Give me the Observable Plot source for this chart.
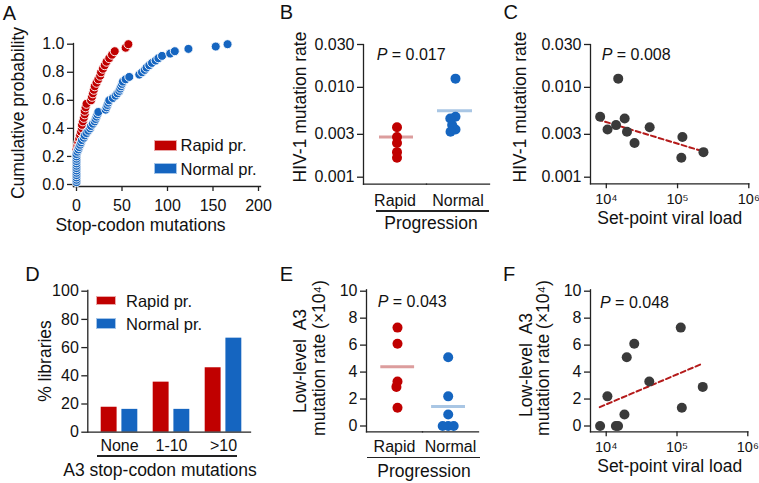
<!DOCTYPE html>
<html><head><meta charset="utf-8">
<script src="https://cdn.jsdelivr.net/npm/d3@7"></script>
<script src="https://cdn.jsdelivr.net/npm/@observablehq/plot@0.6"></script>
<style>
body{margin:0;background:#fff;}
#fig{position:relative;width:759px;height:483px;overflow:hidden;background:#fff;font-family:"Liberation Sans",Arial,Helvetica,sans-serif;color:#111;}
.t{position:absolute;white-space:pre;line-height:1;}
.sw{position:absolute;box-sizing:border-box;}
.ln{position:absolute;height:1.3px;background:#222;}
</style></head><body><div id="fig"></div>
<script>
// ---------- data ----------
// Panel A: stop-codon mutations per library (sorted), cumulative probability derived by rank
const rapidStopCodons = [0,0,0,0,0,0,0,0,0,0,1,2,3,4,5,6,6,7,8,9,9,10,11,16,17,18,19,20,22,24,26,27,29,31,33,36,39,42,54,57];
const normalStopCodons = [0,0,0,0,0,0,0,0,0,0,0,0,0,1,2,3,4,5,6,8,9,11,13,15,16,18,20,21,22,23,24,32,33,34,35,36,40,43,45,47,48,49,50,51,54,58,69,72,75,77,80,83,87,90,94,103,108,123,153,166];
const aXTicks = [0,50,100,150,200];
const aYTicks = [0,0.2,0.4,0.6,0.8,1.0];

// Panels B, C, E, F: one entry per patient
const patientGroup = ["Normal","Normal","Normal","Normal","Normal","Normal","Rapid","Rapid","Rapid","Rapid","Rapid"];
const patientViralLoad = [8200,10400,13700,14700,18100,19500,24900,40600,113000,117000,231000];
const patientHivRate = [0.0047,0.0034,0.0038,0.0125,0.0045,0.0032,0.0024,0.0036,0.00165,0.0028,0.0019];
const patientA3Rate = [0,2.2,0,0,0.85,5.1,6.1,3.3,7.3,1.35,2.9];
const groupNames = ["Rapid","Normal"];
const hivRateMean = [0.0028,0.0055];
const a3RateMean = [4.4,1.45];
const rateTicks = [0.001,0.003,0.01,0.03];
const viralLoadTicks = [1e4,1e5,1e6];
const a3Ticks = [0,2,4,6,8,10];
const cFitViralLoad = [7500,232000];
const cFitRate = [0.0044,0.00193];
const fFitViralLoad = [8100,227000];
const fFitA3 = [1.4,4.62];

// Panel D
const dCategories = ["None","1-10",">10"];
const dRapidPct = [17.7,35.5,45.7];
const dNormalPct = [16.2,16.2,66.7];
const pctTicks = [0,20,40,60,80,100];

// ---------- styling ----------
const RED = "#c00000", BLUE = "#1565c0", GRAY = "#3a3a3a", FIT = "#b41a1a";
const PINK = "#dc9d9d", LBLUE = "#a9c6e4";
const AX = {stroke:"#222", strokeWidth:1.3};
const baseStyle = {fontFamily:'"Liberation Sans", Arial, Helvetica, sans-serif', fontSize:"16px", color:"#111", background:"transparent", overflow:"visible"};
const fig = document.getElementById("fig");
function place(svg, left, top){ svg.style.position="absolute"; svg.style.left=left+"px"; svg.style.top=top+"px"; svg.style.maxWidth="none"; fig.appendChild(svg); }
function txt(html, x, y, o={}){
  const d=document.createElement("div"); d.className="t"; d.innerHTML=html;
  d.style.left=x+"px"; d.style.top=y+"px"; d.style.fontSize=(o.size||17.5)+"px";
  const tx = o.anchor==="start" ? "0" : "-50%";
  d.style.transform=`translate(${tx},-50%)`+(o.rotate?` rotate(${o.rotate}deg)`:"");
  fig.appendChild(d);
}
function swatch(x,y,w,h,fill,border){ const d=document.createElement("div"); d.className="sw"; Object.assign(d.style,{left:x+"px",top:y+"px",width:w+"px",height:h+"px",background:fill,border:`1px solid ${border}`}); fig.appendChild(d); }
function hline(x1,x2,y){ const d=document.createElement("div"); d.className="ln"; Object.assign(d.style,{left:x1+"px",top:(y-0.65)+"px",width:(x2-x1)+"px"}); fig.appendChild(d); }
const sup = n => String(n).split("").map(c=>"⁰¹²³⁴⁵⁶⁷⁸⁹"[+c]).join("");
const powFmt = d => "10" + sup(Math.round(Math.log10(d)));

// ---------- derived tables ----------
const ecdf = arr => arr.map((x,i)=>({x, p:(i+1)/arr.length}));
const rapidEcdf = ecdf(rapidStopCodons), normalEcdf = ecdf(normalStopCodons);
const patients = patientGroup.map((g,i)=>({group:g, vl:patientViralLoad[i], rate:patientHivRate[i], a3:patientA3Rate[i]}));
const rapidP = patients.filter(d=>d.group==="Rapid"), normalP = patients.filter(d=>d.group==="Normal");
const means = groupNames.map((g,i)=>({group:g, rate:hivRateMean[i], a3:a3RateMean[i]}));
const cFit = cFitViralLoad.map((v,i)=>({vl:v, rate:cFitRate[i]}));
const fFit = fFitViralLoad.map((v,i)=>({vl:v, a3:fFitA3[i]}));
const dRows = dCategories.flatMap((c,i)=>[{cat:c, series:"Rapid", pct:dRapidPct[i]},{cat:c, series:"Normal", pct:dNormalPct[i]}]);

// ---------- Panel A ----------
place(Plot.plot({
  width:268, height:232, marginLeft:73, marginRight:8, marginTop:43, marginBottom:46, style:baseStyle,
  x:{domain:[0,200], insetLeft:3, insetRight:2, axis:null},
  y:{domain:[0,1], insetTop:0.7, insetBottom:2, axis:null},
  marks:[
    Plot.frame({anchor:"left", ...AX}), Plot.frame({anchor:"bottom", ...AX}),
    Plot.axisX(aXTicks, {tickSize:5, tickPadding:8, label:null, ...AX}),
    Plot.axisY(aYTicks, {tickSize:6, tickPadding:3, tickFormat:d3.format(".1f"), label:null, ...AX}),
    Plot.dot(rapidEcdf, {x:"x", y:"p", r:4.5, fill:RED, stroke:"#fff", strokeWidth:0.9}),
    Plot.dot(normalEcdf, {x:"x", y:"p", r:4.5, fill:BLUE, stroke:"#fff", strokeWidth:0.9})
  ]
}), 0, 0);

// ---------- Panel B ----------
place(Plot.plot({
  width:250, height:232, marginLeft:113, marginRight:11, marginTop:44, marginBottom:48.3, style:baseStyle,
  fx:{domain:groupNames, padding:0, axis:null},
  y:{type:"log", domain:[0.001,0.03], insetBottom:7, axis:null},
  marks:[
    Plot.frame({anchor:"bottom", ...AX}),
    Plot.frame({anchor:"left", facetAnchor:"left", ...AX}),
    Plot.axisY(rateTicks, {tickSize:6, tickPadding:3, tickFormat:d3.format(".3f"), label:null, ...AX}),
    Plot.axisFx({anchor:"bottom", tickSize:0, tickPadding:10, label:null}),
    Plot.ruleY(means.slice(0,1), {fx:"group", y:"rate", stroke:PINK, strokeWidth:3, insetLeft:16, insetRight:13}),
    Plot.ruleY(means.slice(1), {fx:"group", y:"rate", stroke:LBLUE, strokeWidth:3, insetLeft:11, insetRight:17}),
    Plot.dot(rapidP, Plot.dodgeX({anchor:"middle", padding:-4.5}, {fx:"group", y:"rate", r:5, fill:RED, dx:2})),
    Plot.dot(normalP, Plot.dodgeX({anchor:"middle", padding:-4.5}, {fx:"group", y:"rate", r:5, fill:BLUE, dx:-2.5}))
  ]
}), 250, 0);

// ---------- Panel C ----------
place(Plot.plot({
  width:269, height:232, marginLeft:100, marginRight:10.7, marginTop:44, marginBottom:48.7, style:baseStyle,
  x:{type:"log", domain:[6000,1e6], axis:null},
  y:{type:"log", domain:[0.001,0.03], insetBottom:6.6, axis:null},
  marks:[
    Plot.frame({anchor:"left", ...AX}), Plot.frame({anchor:"bottom", ...AX}),
    Plot.axisX(viralLoadTicks, {tickSize:5, tickPadding:5, tickFormat:powFmt, label:null, fontSize:14.5, ...AX}),
    Plot.axisY(rateTicks, {tickSize:6, tickPadding:3, tickFormat:d3.format(".3f"), label:null, ...AX}),
    Plot.line(cFit, {x:"vl", y:"rate", stroke:FIT, strokeWidth:2, strokeDasharray:"5,3"}),
    Plot.dot(patients, {x:"vl", y:"rate", r:5, fill:GRAY})
  ]
}), 490, 0);

// ---------- Panel D ----------
place(Plot.plot({
  width:253, height:253, marginLeft:87.3, marginRight:3, marginTop:60, marginBottom:51.3, style:baseStyle,
  x:{type:"band", domain:dCategories, insetLeft:4.3, padding:0, axis:null},
  y:{domain:[0,100], insetTop:0.7, axis:null},
  marks:[
    Plot.barY(dRows.filter(d=>d.series==="Rapid"), {x:"cat", y:"pct", fill:RED, insetLeft:7.7, insetRight:28.4}),
    Plot.barY(dRows.filter(d=>d.series==="Normal"), {x:"cat", y:"pct", fill:BLUE, insetLeft:28.4, insetRight:7.7}),
    Plot.frame({anchor:"left", ...AX}), Plot.frame({anchor:"bottom", ...AX}),
    Plot.axisY(pctTicks, {tickSize:6, tickPadding:3, label:null, ...AX}),
    Plot.axisX(dCategories, {tickSize:0, tickPadding:7.6, label:null})
  ]
}), 0, 230);

// ---------- Panel E ----------
place(Plot.plot({
  width:250, height:253, marginLeft:115.7, marginRight:22, marginTop:59.3, marginBottom:51.7, style:baseStyle,
  fx:{domain:groupNames, padding:0, axis:null},
  y:{domain:[0,10], insetTop:1.4, insetBottom:5.8, axis:null},
  marks:[
    Plot.frame({anchor:"bottom", ...AX}),
    Plot.frame({anchor:"left", facetAnchor:"left", ...AX}),
    Plot.axisY(a3Ticks, {tickSize:6, tickPadding:3, label:null, ...AX}),
    Plot.axisFx({anchor:"bottom", tickSize:0, tickPadding:9, label:null}),
    Plot.ruleY(means.slice(0,1), {fx:"group", y:"a3", stroke:PINK, strokeWidth:3, insetLeft:14.3, insetRight:7.9}),
    Plot.ruleY(means.slice(1), {fx:"group", y:"a3", stroke:LBLUE, strokeWidth:3, insetLeft:9.1, insetRight:13}),
    Plot.dot(rapidP, Plot.dodgeX({anchor:"middle", padding:-4.5}, {fx:"group", y:"a3", r:5, fill:RED, dx:3})),
    Plot.dot(normalP, Plot.dodgeX({anchor:"middle", padding:-4.5}, {fx:"group", y:"a3", r:5, fill:BLUE, dx:-2.3}))
  ]
}), 250, 230);

// ---------- Panel F ----------
place(Plot.plot({
  width:269, height:253, marginLeft:100, marginRight:11.7, marginTop:59.3, marginBottom:51.7, style:baseStyle,
  x:{type:"log", domain:[6000,1e6], axis:null},
  y:{domain:[0,10], insetTop:1.4, insetBottom:5.8, axis:null},
  marks:[
    Plot.frame({anchor:"left", ...AX}), Plot.frame({anchor:"bottom", ...AX}),
    Plot.axisX(viralLoadTicks, {tickSize:5, tickPadding:5, tickFormat:powFmt, label:null, fontSize:14.5, ...AX}),
    Plot.axisY(a3Ticks, {tickSize:6, tickPadding:3, label:null, ...AX}),
    Plot.line(fFit, {x:"vl", y:"a3", stroke:FIT, strokeWidth:2, strokeDasharray:"5,3"}),
    Plot.dot(patients, {x:"vl", y:"a3", r:5, fill:GRAY})
  ]
}), 490, 230);

// ---------- text, legends, brackets ----------
txt("A", 9.5, 12.5, {size:20}); txt("B", 286.5, 11.8, {size:20}); txt("C", 510.8, 12, {size:20});
txt("D", 32.5, 274.3, {size:20}); txt("E", 286.3, 273.8, {size:20}); txt("F", 509.2, 274, {size:20});

txt("Cumulative probability", 18.5, 113.3, {rotate:-90});
txt("Stop-codon mutations", 140.5, 226);
txt("HIV-1 mutation rate", 300.5, 106.7, {rotate:-90});
txt("Progression", 431, 224);
txt("HIV-1 mutation rate", 521, 106.7, {rotate:-90});
txt("Set-point viral load", 669.7, 219.3);
txt("% libraries", 45.6, 360.7, {rotate:-90});
txt("A3 stop-codon mutations", 160, 471);
txt("Low-level  A3", 300.6, 361, {rotate:-90});
txt("mutation rate (×10⁴)", 320.4, 358.3, {rotate:-90});
txt("Progression", 424, 472);
txt("Low-level  A3", 527.2, 365, {rotate:-90});
txt("mutation rate (×10⁴)", 543.9, 358.3, {rotate:-90});
txt("Set-point viral load", 669.7, 467.3);

txt("<i>P</i> = 0.017", 376.7, 55, {size:16, anchor:"start"});
txt("<i>P</i> = 0.008", 601.7, 55, {size:16, anchor:"start"});
txt("<i>P</i> = 0.043", 377.7, 301.7, {size:16, anchor:"start"});
txt("<i>P</i> = 0.048", 600, 302.7, {size:16, anchor:"start"});

swatch(154.3, 139.5, 22.4, 11.2, RED, "#eaa8a8"); txt("Rapid pr.", 180.5, 145, {size:16.5, anchor:"start"});
swatch(154.3, 162.8, 22.4, 11.6, BLUE, "#a3c4e8"); txt("Normal pr.", 180.5, 168.5, {size:16.5, anchor:"start"});
swatch(96, 295.7, 20, 9.5, RED, "#eaa8a8"); txt("Rapid pr.", 126, 300.7, {size:16.5, anchor:"start"});
swatch(96, 318.3, 20, 11, BLUE, "#a3c4e8"); txt("Normal pr.", 126, 323.5, {size:16.5, anchor:"start"});

hline(376, 489.3, 211);
hline(96.7, 237.3, 456);
hline(366.7, 480, 457.7);
</script></body></html>
